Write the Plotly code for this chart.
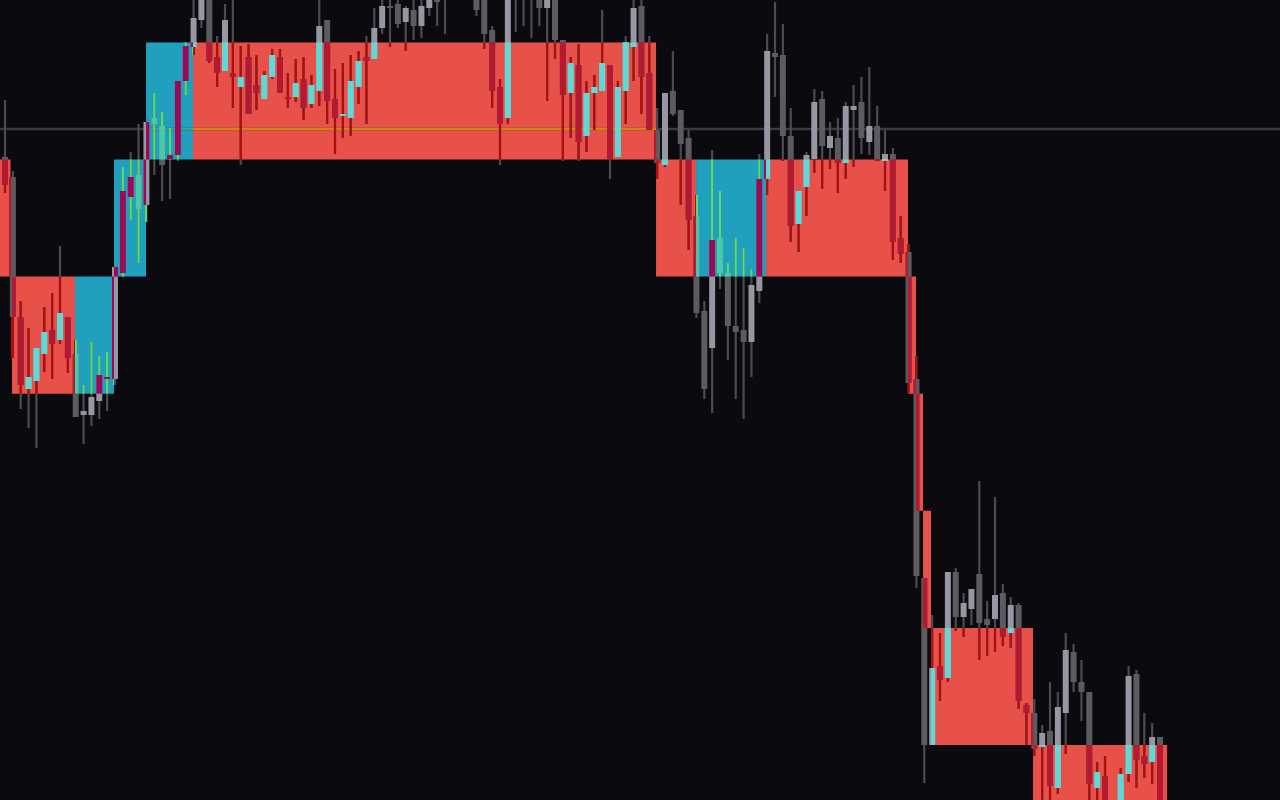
import plotly.graph_objects as go

# ---------------- data (price units, candle index on x) ----------------
open_p = [643, 623, 483, 411, 419, 446, 470, 460, 483, 446,
          385, 385, 399, 421, 421, 527, 603, 625, 595, 682,
          674, 641, 645, 719, 753, 780, 803, 743, 729, 727,
          713, 743, 715, 701, 723, 743, 703, 703, 721, 696,
          709, 780, 701, 684, 682, 713, 743, 741, 772, 794,
          796, 778, 790, 774, 792, 805, 820, 840, 830, 835,
          805, 805, 770, 713, 682, 825, 820, 825, 805, 792,
          805, 760, 707, 735, 664, 707, 709, 735, 643, 709,
          753, 794, 727, 670, 635, 709, 690, 662, 584, 489,
          452, 562, 527, 474, 470, 458, 509, 621, 747, 745,
          664, 576, 613, 641, 701, 652, 662, 637, 690, 698,
          658, 674, 639, 646, 562, 548, 421, 222, 55, 134,
          122, 228, 183, 191, 226, 181, 181, 207, 167, 195,
          95, 87, 53, 69, 12, 87, 148, 118, 108, 12,
          24, -5, -15, 26, 126, 44, 38, 63]
high_p = [700, 629, 499, 472, 452, 493, 507, 554, 483, 460,
          415, 458, 444, 448, 533, 633, 648, 676, 678, 707,
          688, 672, 719, 758, 800, 810, 810, 764, 796, 805,
          754, 756, 745, 729, 751, 751, 727, 741, 743, 725,
          805, 780, 731, 737, 745, 749, 764, 792, 800, 805,
          805, 794, 805, 805, 810, 810, 825, 850, 850, 845,
          810, 810, 774, 721, 810, 830, 830, 830, 810, 810,
          810, 760, 743, 756, 719, 725, 790, 735, 719, 764,
          800, 800, 764, 692, 707, 749, 690, 670, 605, 499,
          650, 609, 537, 562, 552, 531, 646, 766, 798, 776,
          692, 609, 648, 711, 709, 678, 682, 698, 715, 723,
          733, 694, 670, 652, 584, 556, 444, 222, 185, 167,
          228, 232, 207, 211, 319, 199, 303, 216, 203, 197,
          97, 101, 75, 118, 108, 167, 156, 140, 108, 38,
          44, -2, 32, 134, 130, 87, 77, 63]
low_p = [607, 442, 391, 372, 352, 428, 421, 456, 427, 383,
         356, 374, 381, 389, 415, 523, 580, 537, 578, 625,
         599, 601, 639, 705, 745, 772, 737, 713, 729, 692,
         635, 686, 690, 701, 721, 707, 692, 698, 680, 692,
         694, 676, 646, 662, 664, 696, 676, 741, 766, 753,
         772, 749, 760, 762, 784, 774, 766, 810, 805, 805,
         784, 751, 692, 635, 676, 768, 774, 762, 774, 699,
         741, 639, 662, 639, 648, 670, 709, 621, 643, 676,
         719, 686, 670, 621, 633, 684, 595, 550, 482, 401,
         387, 511, 440, 401, 381, 423, 497, 605, 703, 639,
         558, 548, 584, 627, 611, 631, 607, 621, 633, 646,
         645, 639, 609, 540, 537, 407, 212, 17, 55, 99,
         118, 169, 163, 175, 140, 144, 148, 154, 152, 91,
         55, 44, -10, -10, 6, 46, 108, 79, -10, -5,
         -10, -30, -20, 18, 12, 22, 16, -15]
close_p = [615, 483, 415, 423, 452, 468, 456, 487, 442, 383,
           389, 403, 425, 423, 533, 609, 623, 591, 678, 676,
           635, 645, 719, 754, 782, 802, 739, 727, 780, 723,
           723, 686, 707, 725, 745, 707, 701, 717, 692, 715,
           774, 699, 682, 686, 719, 739, 739, 772, 794, 792,
           776, 792, 774, 794, 803, 798, 815, 830, 840, 820,
           790, 766, 709, 676, 805, 820, 825, 820, 792, 805,
           760, 705, 737, 658, 707, 713, 737, 641, 713, 758,
           792, 723, 670, 637, 707, 686, 656, 580, 487, 411,
           560, 527, 474, 468, 458, 515, 621, 749, 743, 664,
           574, 609, 645, 698, 654, 664, 637, 694, 694, 662,
           674, 639, 646, 558, 546, 417, 224, 55, 132, 120,
           228, 183, 197, 211, 177, 175, 205, 163, 195, 99,
           87, 51, 67, 14, 93, 150, 118, 108, 16, 28,
           -5, -20, 26, 124, 40, 36, 63, -10]

# brick boxes: start / end (candle index), brick level, direction
box_start = [-1.5, 0.89, 8.91, 13.87, 17.95, 23.93, 82.86, 87.95, 96.86,
             114.93, 115.95, 116.84, 117.86, 130.84]
box_end = [0.70, 8.91, 13.87, 17.95, 23.93, 82.86, 87.95, 96.86, 114.93,
           115.95, 116.84, 117.86, 130.84, 147.9]
box_level = [4, 3, 3, 4, 5, 5, 4, 4, 4, 3, 2, 1, 0, -1]
box_kind = ['red', 'red', 'cyan', 'cyan', 'cyan', 'red', 'red', 'cyan', 'red',
            'red', 'red', 'red', 'red', 'red']
BRICK_BASE = 55.0
BRICK_SIZE = 117.1
ref_price = 671.0

# ---------------- styles ----------------
BG = '#0a0a0f'
BOX_COL = {'red': '#e8504a', 'cyan': '#219fbf'}
UP_COL = {None: '#9797a3', 'red': '#5fd9d5', 'cyan': '#990a57'}
DN_COL = {None: '#5b5b60', 'red': '#b3192f', 'cyan': '#4ac9a8'}
WICK_COL = {None: '#4b4b51', 'red': '#b00d0d', 'cyan': '#5ade68'}
LINE_COL = {None: '#3b3b45', 'red': '#d8830f', 'cyan': '#3e9f96'}
BODY_W = 0.764
WICK_W = 0.28
LINE_H = 2.4
X_RANGE = [-0.636, 162.27]
Y_RANGE = [0, 800]

boxes = []
for s, e, k, kind in zip(box_start, box_end, box_level, box_kind):
    boxes.append((s, e, BRICK_BASE + k * BRICK_SIZE, BRICK_BASE + (k + 1) * BRICK_SIZE, kind))


def pieces(x0, x1, y0, y1):
    out = [(None, x0, x1, y0, y1)]
    for bx0, bx1, by0, by1, kind in boxes:
        ix0, ix1 = max(x0, bx0), min(x1, bx1)
        iy0, iy1 = max(y0, by0), min(y1, by1)
        if ix1 > ix0 and iy1 > iy0:
            out.append((kind, ix0, ix1, iy0, iy1))
    return out


layers = {name: {'x': [], 'w': [], 'b': [], 'h': [], 'c': []}
          for name in ['box', 'line0', 'line1', 'wick0', 'wick1', 'body0', 'body1']}


def add(layer, x0, x1, y0, y1, color):
    L = layers[layer]
    L['x'].append((x0 + x1) / 2)
    L['w'].append(x1 - x0)
    L['b'].append(y0)
    L['h'].append(y1 - y0)
    L['c'].append(color)


for bx0, bx1, by0, by1, kind in boxes:
    add('box', bx0, bx1, by0, by1, BOX_COL[kind])

for kind, a, b, lo, hi in pieces(X_RANGE[0], X_RANGE[1], ref_price - LINE_H / 2, ref_price + LINE_H / 2):
    add('line0' if kind is None else 'line1', a, b, lo, hi, LINE_COL[kind])

for i, (o, h, l, c) in enumerate(zip(open_p, high_p, low_p, close_p)):
    for kind, a, b, lo, hi in pieces(i - WICK_W / 2, i + WICK_W / 2, l, h):
        add('wick0' if kind is None else 'wick1', a, b, lo, hi, WICK_COL[kind])
    lo_b, hi_b = min(o, c), max(o, c)
    if hi_b - lo_b < 2:
        mid = (hi_b + lo_b) / 2
        lo_b, hi_b = mid - 1, mid + 1
    cols = UP_COL if c >= o else DN_COL
    for kind, a, b, lo, hi in pieces(i - BODY_W / 2, i + BODY_W / 2, lo_b, hi_b):
        add('body0' if kind is None else 'body1', a, b, lo, hi, cols[kind])

fig = go.Figure()
for name in ['box', 'line0', 'line1', 'wick0', 'wick1', 'body0', 'body1']:
    L = layers[name]
    fig.add_trace(go.Bar(x=L['x'], y=L['h'], base=L['b'], width=L['w'],
                         marker=dict(color=L['c'], line=dict(width=0)),
                         hoverinfo='skip', showlegend=False))

fig.update_layout(
    width=1280, height=800,
    margin=dict(l=0, r=0, t=0, b=0),
    paper_bgcolor=BG, plot_bgcolor=BG,
    barmode='overlay', showlegend=False,
    xaxis=dict(visible=False, range=X_RANGE, fixedrange=True),
    yaxis=dict(visible=False, range=Y_RANGE, fixedrange=True),
)

fig.write_html("out.html", config={'displayModeBar': False},
               post_script="document.body.style.margin='0';")
